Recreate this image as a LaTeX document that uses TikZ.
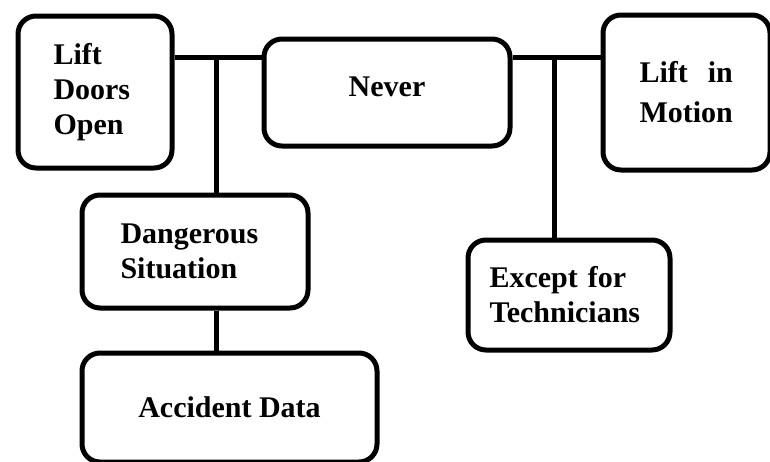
\documentclass[tikz,border=0pt]{standalone}
\usepackage{fontspec}
\setmainfont{Liberation Serif}

\begin{document}
\begin{tikzpicture}[x=1pt, y=-1pt,
    box/.style={draw, line width=5pt, rounded corners=18pt, anchor=north west,
        align=left, inner ysep=0pt, font=\fontsize{30}{35}\selectfont\bfseries},
    link/.style={line width=5pt}]
    \useasboundingbox (0,0) rectangle (770,461);

    \node[box, text width=83pt, inner xsep=35.5pt, minimum height=152pt] (doors) at (15.5,13.5) {Lift\\Doors\\Open};
    \node[box, align=center, minimum width=246pt, minimum height=107pt, text depth=12pt] (never) at (261.5,36.5) {Never};
    \node[box, text width=94pt, inner xsep=36.5pt, minimum height=155pt,
        font=\fontsize{30}{40}\selectfont\bfseries] (motion) at (600.5,12.5) {Lift~~in\\Motion};
    \node[box, text width=149pt, inner xsep=38.5pt, minimum height=113pt] (danger) at (79.5,192.5) {Dangerous\\Situation};
    \node[box, minimum width=295pt, minimum height=109pt] (accident) at (79.5,350.5) {Accident Data};
    \node[box, text width=159pt, inner xsep=21.5pt, minimum height=110pt] (except) at (465.5,237.5) {Except for\\Technicians};

    \coordinate (jl) at (216,57);
    \coordinate (jr) at (554.5,57);

    \draw[link] (doors.east |- jl) -- (never.west |- jl);
    \draw[link] (jl) -- (jl |- danger.north);
    \draw[link] (jl |- danger.south) -- (jl |- accident.north);
    \draw[link] (never.east |- jr) -- (motion.west |- jr);
    \draw[link] (jr) -- (jr |- except.north);
\end{tikzpicture}
\end{document}
